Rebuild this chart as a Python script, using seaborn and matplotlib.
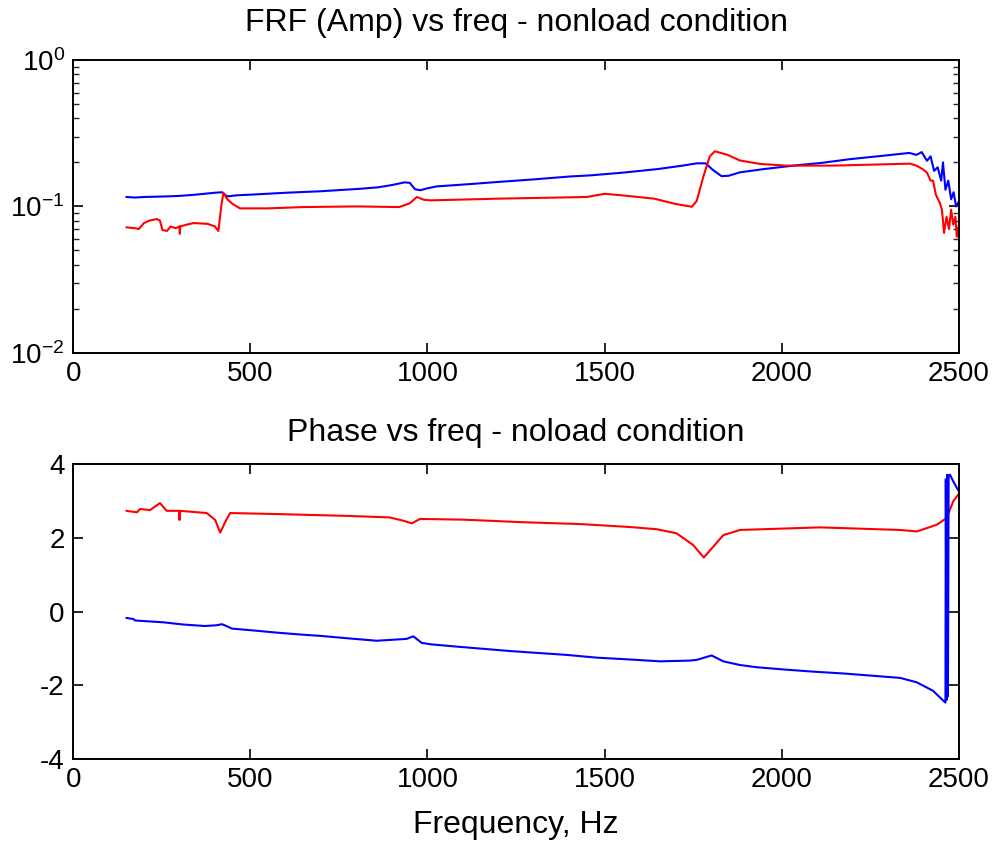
import matplotlib
matplotlib.use("Agg")
import matplotlib.pyplot as plt
import seaborn as sns
import numpy as np

sns.set_theme(style="white")
plt.rcParams['font.family'] = ['Liberation Sans', 'DejaVu Sans']
plt.rcParams['axes.unicode_minus'] = False
plt.rcParams['text.color'] = 'black'
plt.rcParams['axes.labelcolor'] = 'black'
plt.rcParams['axes.titlecolor'] = 'black'

# amplitude, blue trace (frequency Hz, |FRF|)
amp_blue_freq = [150, 175, 200, 260, 300, 340, 400, 420, 435, 460, 520, 600, 700, 810, 860, 900, 935, 950,
                 965, 980, 1000, 1026, 1100, 1200, 1300, 1400, 1460, 1550, 1650, 1720, 1760, 1785, 1805, 1830,
                 1850, 1882, 1950, 2000, 2050, 2110, 2190, 2286, 2360, 2380, 2395, 2410, 2420, 2430, 2440,
                 2450, 2455, 2462, 2470, 2478, 2485, 2492, 2500]
amp_blue = [0.116, 0.115, 0.116, 0.117, 0.118, 0.120, 0.124, 0.125, 0.117, 0.119, 0.121, 0.124, 0.127, 0.132,
            0.135, 0.140, 0.146, 0.145, 0.131, 0.129, 0.133, 0.137, 0.141, 0.147, 0.153, 0.160, 0.163, 0.170,
            0.180, 0.190, 0.197, 0.197, 0.178, 0.161, 0.162, 0.171, 0.180, 0.186, 0.192, 0.198, 0.210, 0.222,
            0.232, 0.225, 0.235, 0.205, 0.220, 0.175, 0.185, 0.150, 0.200, 0.130, 0.150, 0.112, 0.125, 0.100,
            0.108]

# amplitude, red trace
amp_red_freq = [150, 175, 185, 200, 215, 236, 245, 252, 265, 275, 290, 300, 301, 302, 320, 340, 380, 400, 410,
                418, 424, 435, 450, 471, 550, 650, 800, 920, 950, 970, 990, 1010, 1200, 1450, 1500, 1550, 1640,
                1700, 1746, 1760, 1779, 1797, 1811, 1845, 1882, 1940, 2014, 2145, 2362, 2380, 2399, 2410, 2420,
                2427, 2435, 2446, 2452, 2458, 2465, 2472, 2478, 2484, 2490, 2494, 2500]
amp_red = [0.072, 0.071, 0.070, 0.077, 0.080, 0.082, 0.080, 0.069, 0.068, 0.073, 0.071, 0.073, 0.065, 0.073,
           0.075, 0.077, 0.076, 0.073, 0.068, 0.100, 0.124, 0.112, 0.104, 0.097, 0.097, 0.099, 0.100, 0.099,
           0.105, 0.116, 0.111, 0.110, 0.113, 0.116, 0.122, 0.119, 0.113, 0.104, 0.0995, 0.109, 0.161, 0.220,
           0.238, 0.226, 0.206, 0.195, 0.190, 0.190, 0.196, 0.190, 0.179, 0.170, 0.150, 0.150, 0.120, 0.106,
           0.095, 0.066, 0.085, 0.070, 0.095, 0.075, 0.085, 0.062, 0.075]

# phase, blue trace (rad)
ph_blue_freq = [150, 170, 175, 255, 311, 372, 405, 420, 435, 448, 508, 575, 640, 700, 782, 857, 941, 960, 984,
                1012, 1083, 1158, 1233, 1308, 1393, 1478, 1572, 1656, 1740, 1760, 1802, 1835, 1882, 1929, 2004,
                2089, 2174, 2268, 2334, 2381, 2427, 2456, 2462, 2463, 2465, 2467, 2469, 2471, 2475, 2484, 2498]
ph_blue = [-0.17, -0.20, -0.24, -0.29, -0.35, -0.39, -0.37, -0.34, -0.40, -0.46, -0.51, -0.57, -0.62, -0.66,
           -0.73, -0.79, -0.74, -0.67, -0.85, -0.89, -0.95, -1.01, -1.07, -1.12, -1.175, -1.25, -1.30, -1.35,
           -1.33, -1.31, -1.19, -1.35, -1.45, -1.51, -1.57, -1.63, -1.68, -1.75, -1.80, -1.92, -2.15, -2.42,
           -2.47, 3.60, -2.40, 3.72, -2.30, 3.70, 3.72, 3.54, 3.30]

# phase, red trace
ph_red_freq = [150, 180, 189, 217, 245, 264, 299, 300, 301, 377, 401, 415, 432, 443, 584, 782, 894, 932, 956,
               979, 1101, 1271, 1431, 1572, 1647, 1703, 1750, 1780, 1807, 1835, 1882, 2108, 2334, 2381, 2437,
               2465, 2484, 2498]
ph_red = [2.74, 2.70, 2.79, 2.76, 2.95, 2.74, 2.74, 2.49, 2.74, 2.68, 2.49, 2.15, 2.49, 2.68, 2.65, 2.60, 2.56,
          2.47, 2.40, 2.52, 2.50, 2.43, 2.38, 2.30, 2.24, 2.13, 1.81, 1.47, 1.77, 2.08, 2.22, 2.29, 2.22, 2.18,
          2.36, 2.54, 3.00, 3.18]

fig = plt.figure(figsize=(10.02, 8.46), dpi=100)
ax1 = fig.add_axes([0.073, 0.583, 0.884, 0.346])
ax2 = fig.add_axes([0.073, 0.103, 0.884, 0.348])

lw = 1.5
sns.lineplot(x=amp_blue_freq, y=amp_blue, color='#0000ff', lw=lw, sort=False, estimator=None, ax=ax1)
sns.lineplot(x=amp_red_freq, y=amp_red, color='#ff0000', lw=lw, sort=False, estimator=None, ax=ax1)
sns.lineplot(x=ph_red_freq, y=ph_red, color='#ff0000', lw=lw, sort=False, estimator=None, ax=ax2)
sns.lineplot(x=ph_blue_freq, y=ph_blue, color='#0000ff', lw=lw, sort=False, estimator=None, ax=ax2)

ax1.set_yscale('log')
ax1.set_ylim(1e-2, 1e0)
ax1.set_xlim(0, 2500)
ax1.set_xticks([0, 500, 1000, 1500, 2000, 2500])
ax1.set_title('FRF (Amp) vs freq - nonload condition', fontsize=23, pad=21)

ax2.set_ylim(-4, 4)
ax2.set_xlim(0, 2500)
ax2.set_xticks([0, 500, 1000, 1500, 2000, 2500])
ax2.set_yticks([-4, -2, 0, 2, 4])
ax2.set_title('Phase vs freq - noload condition', fontsize=23, pad=17)
ax2.set_xlabel('Frequency, Hz', fontsize=23, labelpad=12)

for ax in (ax1, ax2):
    for s in ax.spines.values():
        s.set_visible(True)
        s.set_color('black')
        s.set_linewidth(1.4)
    ax.tick_params(which='major', direction='in', length=7, width=1.2, labelsize=20,
                   top=True, right=True, bottom=True, left=True, colors='black', pad=6)
    ax.tick_params(which='minor', direction='in', length=4, width=1.0, top=True, right=True,
                   bottom=False, left=True)
    ax.grid(False)
    ax.set_ylabel('')
ax2.minorticks_off()
ax1.tick_params(axis='x', which='minor', top=False, bottom=False)

fig.savefig('out.png', dpi=100, facecolor='white')
